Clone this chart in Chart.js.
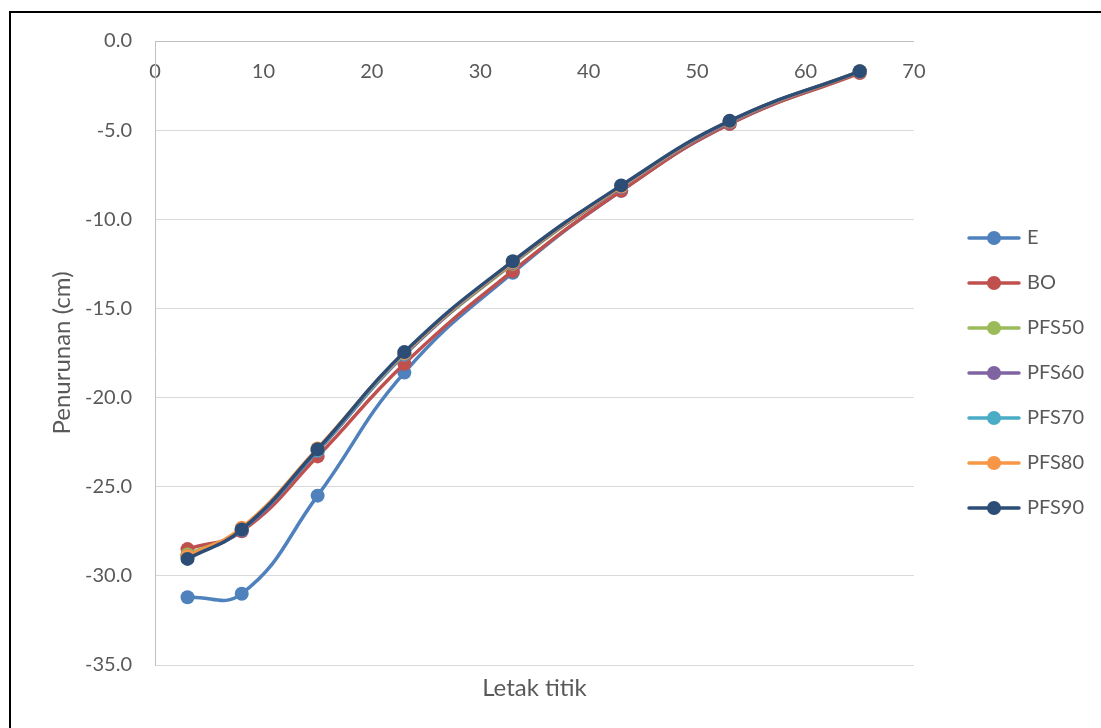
<!DOCTYPE html>
<html>
<head>
<meta charset="utf-8">
<script src="https://cdn.jsdelivr.net/npm/chart.js@4/dist/chart.umd.min.js"></script>
<style>
  html, body { margin: 0; padding: 0; background: #fff; overflow: hidden; }
  #wrap { position: absolute; left: 0; top: 0; width: 1101px; height: 728px; }
  #frame {
    position: absolute; left: 9px; top: 11px; width: 1200px; height: 800px;
    border-left: 2px solid #000; border-top: 2px solid #000; pointer-events: none;
  }
</style>
</head>
<body>
<div id="wrap"><canvas id="myChart"></canvas></div>
<div id="frame"></div>
<script>
const xPos = [3, 8, 15, 23, 33, 43, 53, 65];
const seriesNames = ['E', 'BO', 'PFS50', 'PFS60', 'PFS70', 'PFS80', 'PFS90'];
const seriesColors = ['#4f81bd', '#c0504d', '#9bbb59', '#8064a2', '#4bacc6', '#f79646', '#2c4d75'];

const valE     = [-31.2, -31.0, -25.5, -18.6, -13.0, -8.4, -4.65, -1.75];
const valBO    = [-28.5, -27.5, -23.3, -18.1, -12.9, -8.4, -4.65, -1.8];
const valPFS50 = [-28.8, -27.4, -23.0, -17.6, -12.5, -8.2, -4.55, -1.72];
const valPFS60 = [-28.9, -27.45, -23.0, -17.6, -12.45, -8.2, -4.55, -1.72];
const valPFS70 = [-28.95, -27.4, -22.95, -17.55, -12.4, -8.15, -4.5, -1.7];
const valPFS80 = [-28.9, -27.3, -22.85, -17.5, -12.4, -8.15, -4.5, -1.7];
const valPFS90 = [-29.05, -27.4, -22.9, -17.45, -12.35, -8.1, -4.48, -1.7];

const allValues = [valE, valBO, valPFS50, valPFS60, valPFS70, valPFS80, valPFS90];
const textColor = '#595959';
const fontFamily = 'Lato, "Open Sans", sans-serif';

// small line + dot pictures for the legend
function legendIcon(color) {
  const c = document.createElement('canvas');
  c.width = 54;
  c.height = 18;
  const g = c.getContext('2d');
  g.strokeStyle = color;
  g.lineWidth = 3.5;
  g.lineCap = 'round';
  g.beginPath();
  g.moveTo(2, 9);
  g.lineTo(52, 9);
  g.stroke();
  g.fillStyle = color;
  g.beginPath();
  g.arc(27, 9, 7, 0, Math.PI * 2);
  g.fill();
  return c;
}
const icons = seriesColors.map(legendIcon);

const datasets = seriesNames.map((name, i) => ({
  label: name,
  data: xPos.map((x, j) => ({ x: x, y: allValues[i][j] })),
  borderColor: seriesColors[i],
  backgroundColor: seriesColors[i],
  pointBackgroundColor: seriesColors[i],
  pointBorderColor: seriesColors[i],
  borderWidth: 3.5,
  pointRadius: 7,
  pointBorderWidth: 0,
  tension: 0.45,
  fill: false,
  order: seriesNames.length - 1 - i
}));

const chartContext = document.getElementById('myChart').getContext('2d');

new Chart(chartContext, {
  type: 'line',
  data: { datasets: datasets },
  options: {
    responsive: true,
    maintainAspectRatio: false,
    animation: false,
    devicePixelRatio: 1,
    layout: { padding: { left: 10, top: 41, right: 7, bottom: 25.6 } },
    plugins: {
      tooltip: { enabled: false },
      legend: {
        position: 'right',
        align: 'center',
        title: { display: true, text: ' ', font: { size: 1, lineHeight: 2.6 }, padding: 0 },
        labels: {
          color: textColor,
          font: { family: fontFamily, size: 20 },
          padding: 25,
          usePointStyle: true,
          pointStyleWidth: 46,
          generateLabels: chart => chart.data.datasets.map((ds, i) => ({
            text: ds.label,
            fillStyle: ds.borderColor,
            strokeStyle: ds.borderColor,
            fontColor: textColor,
            pointStyle: icons[i],
            lineWidth: 0,
            hidden: false,
            datasetIndex: i
          }))
        }
      }
    },
    scales: {
      x: {
        type: 'linear',
        position: { y: 0 },
        min: 0,
        max: 70,
        ticks: { stepSize: 10, color: textColor, font: { family: fontFamily, size: 20 }, padding: 19 },
        grid: { display: false, drawTicks: false },
        border: { color: '#bfbfbf', width: 1 }
      },
      x2: {
        type: 'linear',
        position: 'bottom',
        min: 0,
        max: 70,
        ticks: { display: false },
        grid: { display: false, drawTicks: false },
        border: { display: false },
        title: {
          display: true,
          text: 'Letak titik',
          color: textColor,
          font: { family: fontFamily, size: 24 },
          padding: { top: 8.6, bottom: 0 }
        }
      },
      y: {
        min: -35,
        max: 0,
        afterFit: s => { s.width = 145; },
        ticks: {
          stepSize: 5,
          color: textColor,
          font: { family: fontFamily, size: 20 },
          padding: 23,
          callback: v => v.toFixed(1)
        },
        grid: { color: '#d9d9d9', lineWidth: 1, drawTicks: false },
        border: { color: '#bfbfbf', width: 1 },
        title: {
          display: true,
          text: 'Penurunan (cm)',
          color: textColor,
          font: { family: fontFamily, size: 24 },
          padding: { top: 37.6, bottom: 0 }
        }
      },
      y2: {
        position: 'right',
        min: -35,
        max: 0,
        afterFit: s => { s.width = 32; },
        ticks: { display: false },
        grid: { display: false, drawTicks: false },
        border: { display: false }
      }
    }
  }
});
</script>
</body>
</html>
